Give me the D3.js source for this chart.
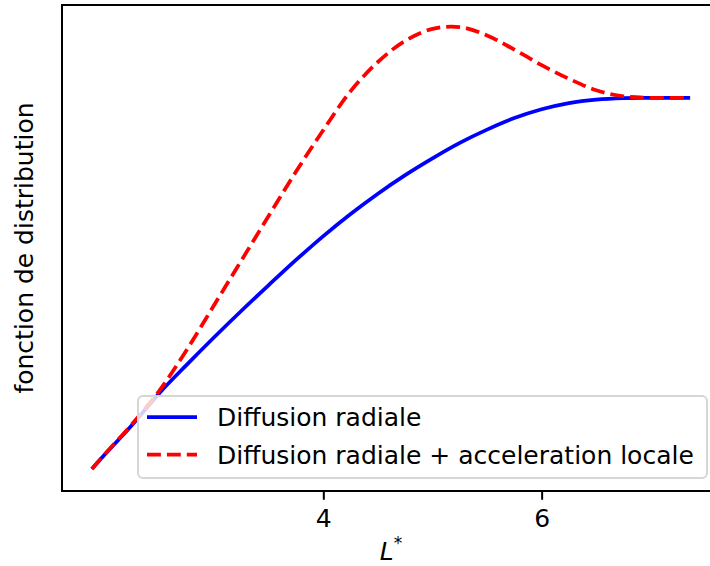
<!DOCTYPE html>
<html>
<head>
<meta charset="utf-8">
<script src="https://cdn.jsdelivr.net/npm/d3@7/dist/d3.min.js"></script>
<style>
  html, body { margin: 0; padding: 0; background: #fff; }
  svg { display: block; font-family: 'DejaVu Sans', sans-serif; }
</style>
</head>
<body>
<figure id="chart" style="margin:0"></figure>
<script>
// L* positions (shared by both series)
const lValues = [1.88, 2.0, 2.25, 2.5, 2.75, 3.0, 3.25, 3.5, 3.75, 4.0, 4.25, 4.5,
  4.75, 5.0, 5.25, 5.5, 5.75, 6.0, 6.25, 6.5, 6.75, 7.0, 7.36];

// distribution function, arbitrary units
const radialDiffusion = [0.0, 0.033, 0.100, 0.172, 0.236, 0.298, 0.358, 0.416, 0.473, 0.527,
  0.577, 0.623, 0.665, 0.703, 0.738, 0.768, 0.794, 0.814, 0.828, 0.836, 0.8395, 0.840, 0.840];
const radialPlusLocal = [0.0, 0.034, 0.102, 0.178, 0.270, 0.371, 0.472, 0.573, 0.673, 0.767,
  0.855, 0.921, 0.969, 0.996, 1.000, 0.981, 0.949, 0.914, 0.883, 0.857, 0.8435, 0.840, 0.840];

const xTicks = [4, 6];
const seriesLabels = ['Diffusion radiale', 'Diffusion radiale + acceleration locale'];
const seriesColors = ['#0000ff', '#ff0000'];

const width = 710;
const height = 566;
const plot = { left: 62, top: 5, right: 720, bottom: 491 };
const fontSize = 25;

const svg = d3.select('figure#chart')
  .append('svg')
  .attr('width', width)
  .attr('height', height);

// matplotlib-like 5% padding around the data
const pad = (ext) => {
  const span = ext[1] - ext[0];
  return [ext[0] - span * 0.05, ext[1] + span * 0.05];
};

const xScale = d3.scaleLinear()
  .domain(pad(d3.extent(lValues)))
  .range([plot.left, plot.right]);

const yScale = d3.scaleLinear()
  .domain(pad(d3.extent(radialDiffusion.concat(radialPlusLocal))))
  .range([plot.bottom, plot.top]);

const series = [radialDiffusion, radialPlusLocal].map((vals, i) => ({
  label: seriesLabels[i],
  color: seriesColors[i],
  dashed: i === 1,
  points: vals.map((v, j) => ({ l: lValues[j], v: v })),
}));

const line = d3.line()
  .x((d) => xScale(d.l))
  .y((d) => yScale(d.v))
  .curve(d3.curveCatmullRom.alpha(0.5));

svg.append('g')
  .attr('class', 'lines')
  .selectAll('path')
  .data(series)
  .enter()
  .append('path')
  .attr('d', (d) => line(d.points))
  .attr('fill', 'none')
  .attr('stroke', (d) => d.color)
  .attr('stroke-width', 3.75)
  .attr('stroke-dasharray', (d) => (d.dashed ? '13.9,6' : null));

// x axis, ticks only
const xAxis = svg.append('g')
  .attr('class', 'axis axis-x')
  .attr('transform', `translate(0, ${plot.bottom})`)
  .call(d3.axisBottom(xScale).tickValues(xTicks).tickSize(8.75).tickPadding(9).tickFormat(d3.format('d')));
xAxis.select('.domain').remove();
xAxis.selectAll('line').attr('stroke', '#000').attr('stroke-width', 2);
xAxis.selectAll('text')
  .attr('fill', '#000')
  .style('font-size', `${fontSize}px`)
  .style('font-family', "'DejaVu Sans', sans-serif");

// spines
svg.append('rect')
  .attr('class', 'spines')
  .attr('x', plot.left)
  .attr('y', plot.top)
  .attr('width', plot.right - plot.left)
  .attr('height', plot.bottom - plot.top)
  .attr('fill', 'none')
  .attr('stroke', '#000')
  .attr('stroke-width', 2);

// axis labels
const xLabel = svg.append('text')
  .attr('x', (plot.left + plot.right) / 2)
  .attr('y', 560)
  .attr('text-anchor', 'middle')
  .style('font-size', `${fontSize}px`);
xLabel.append('tspan').style('font-style', 'italic').text('L');
xLabel.append('tspan').attr('dy', -11).style('font-size', '17px').text('*');

svg.append('text')
  .attr('transform', `translate(33, ${(plot.top + plot.bottom) / 2}) rotate(-90)`)
  .attr('text-anchor', 'middle')
  .style('font-size', `${fontSize}px`)
  .text('fonction de distribution');

// legend
const legend = svg.append('g').attr('class', 'legend');
legend.append('rect')
  .attr('x', 138)
  .attr('y', 396)
  .attr('width', 569)
  .attr('height', 82)
  .attr('rx', 5)
  .attr('fill', '#fff')
  .attr('fill-opacity', 0.8)
  .attr('stroke', '#d6d6d6')
  .attr('stroke-width', 2);

const rows = legend.selectAll('g.row')
  .data(series)
  .enter()
  .append('g')
  .attr('class', 'row')
  .attr('transform', (d, i) => `translate(0, ${417 + i * 37.5})`);

rows.append('line')
  .attr('x1', 147)
  .attr('x2', 197)
  .attr('stroke', (d) => d.color)
  .attr('stroke-width', 3.75)
  .attr('stroke-dasharray', (d) => (d.dashed ? '13.9,6' : null));

rows.append('text')
  .attr('x', 217)
  .attr('dy', '0.36em')
  .style('font-size', `${fontSize}px`)
  .attr('fill', '#000')
  .text((d) => d.label);
</script>
</body>
</html>
